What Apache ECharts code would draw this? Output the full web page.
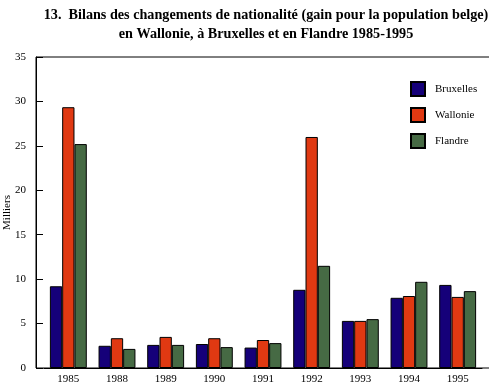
<!DOCTYPE html>
<html>
<head>
<meta charset="utf-8">
<script src="https://cdn.jsdelivr.net/npm/echarts@6/dist/echarts.min.js"></script>
<style>html,body{margin:0;padding:0;background:#fff}#c{width:489px;height:387px}</style>
</head>
<body>
<div id="c"></div>
<script>
const years = ['1985','1988','1989','1990','1991','1992','1993','1994','1995'];
const bruxelles = [9.2, 2.5, 2.6, 2.7, 2.3, 8.8, 5.3, 7.9, 9.35];
const wallonie  = [29.35, 3.35, 3.5, 3.35, 3.15, 26.0, 5.3, 8.1, 8.0];
const flandre   = [25.2, 2.15, 2.6, 2.35, 2.8, 11.5, 5.5, 9.7, 8.65];
const yTicks = [0, 5, 10, 15, 20, 25, 30, 35];

const font = 'Liberation Serif';
const chart = echarts.init(document.getElementById('c'));
const mk = (name, data, color) => ({
  name, type: 'bar', data, barWidth: 12.3, barGap: '0%',
  itemStyle: { color, borderColor: '#000', borderWidth: 1 }
});
chart.setOption({
  animation: false,
  title: {
    text: '13.  Bilans des changements de nationalité (gain pour la population belge)\nen Wallonie, à Bruxelles et en Flandre 1985-1995',
    left: 261, top: 1, textAlign: 'center',
    textStyle: { fontFamily: font, fontSize: 14.2, fontWeight: 'bold', color: '#000', lineHeight: 19, align: 'center' }
  },
  legend: {
    orient: 'vertical', left: 405, top: 76, itemWidth: 14, itemHeight: 14, itemGap: 10,
    icon: 'rect',
    textStyle: { fontFamily: font, fontSize: 11, color: '#000', padding: [0, 0, 0, 5] }
  },
  grid: [
    { left: 44, right: 7, top: 57, bottom: 19, outerBoundsMode: 'none', containLabel: false },
    { left: 36, right: -3, top: 57, bottom: 19, outerBoundsMode: 'none', containLabel: false, show: true, borderColor: '#000', borderWidth: 1, backgroundColor: 'transparent' }
  ],
  xAxis: {
    type: 'category', data: years, z: 5,
    axisLine: { lineStyle: { color: '#000' } },
    axisTick: { inside: true, alignWithLabel: true, length: 7, lineStyle: { color: '#000' } },
    axisLabel: { fontFamily: font, fontSize: 11, color: '#000', margin: 6 }
  },
  yAxis: {
    type: 'value', min: yTicks[0], max: yTicks[yTicks.length - 1], interval: 5, offset: 8,
    name: 'Milliers', nameLocation: 'middle', nameGap: 23, nameMoveOverlap: false,
    nameTextStyle: { fontFamily: font, fontSize: 11, color: '#000' },
    axisLine: { show: true, lineStyle: { color: '#000' } },
    axisTick: { show: true, inside: true, length: 7, lineStyle: { color: '#000' } },
    splitLine: { show: false },
    axisLabel: { fontFamily: font, fontSize: 11, color: '#000', margin: 10 }
  },
  series: [
    mk('Bruxelles', bruxelles, '#150079'),
    mk('Wallonie', wallonie, '#e03912'),
    mk('Flandre', flandre, '#466a44')
  ]
});
</script>
</body>
</html>
